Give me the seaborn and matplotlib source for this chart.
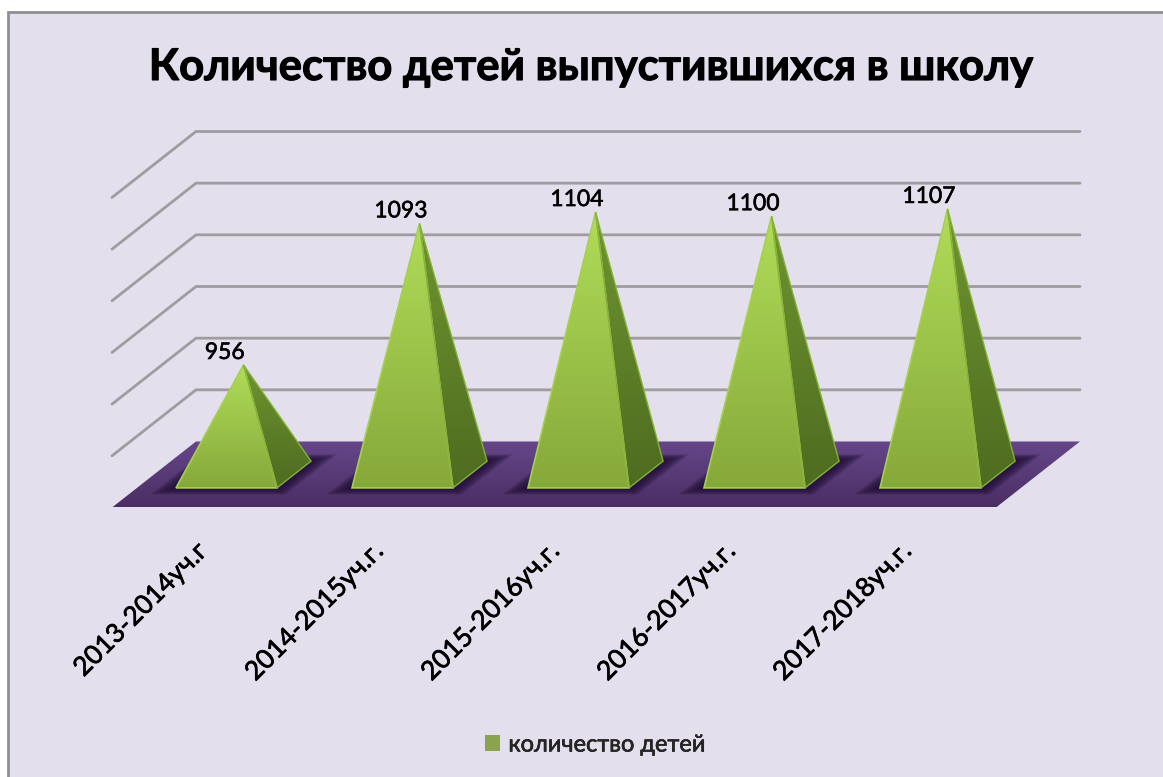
import numpy as np
import pandas as pd
import matplotlib
matplotlib.use("Agg")
import matplotlib.pyplot as plt
import matplotlib.patheffects as pe
from matplotlib.colors import LinearSegmentedColormap
from matplotlib.patches import Polygon, Rectangle
import seaborn as sns

# ---- data ----
categories = ["2013-2014уч.г", "2014-2015уч.г.", "2015-2016уч.г.", "2016-2017уч.г.", "2017-2018уч.г."]
values = [956, 1093, 1104, 1100, 1107]
series_name = "количество детей"
title_text = "Количество детей выпустившихся в школу"
grid_values = [850, 900, 950, 1000, 1050, 1100, 1150]

W, H = 1163, 777
BG = "#E4DFEC"
sns.set_theme(style="white")
plt.rcParams["font.family"] = ["Lato", "Noto Sans", "DejaVu Sans"]

fig = plt.figure(figsize=(W / 100, H / 100), dpi=100, facecolor="white")
fig.add_artist(Rectangle((8 / W, -0.05), 1.1, 1 - 12 / H + 0.05, transform=fig.transFigure,
                         facecolor=BG, edgecolor="#8F8F8F", linewidth=2, zorder=-5))

# axes rectangle = mid-depth plane of the 3-D box
left, right, y850, y1150 = 154, 1038, 474.5, 164.5
ax = fig.add_axes([left / W, 1 - y850 / H, (right - left) / W, (y850 - y1150) / H])
ax.patch.set_alpha(0)

df = pd.DataFrame({"period": categories, "n": values, "series": series_name})
sns.barplot(data=df, x="period", y="n", hue="series", palette=["#8FB33E"], width=0.574,
            dodge=False, ax=ax, legend=True, zorder=1)
sns.move_legend(ax, "center left", bbox_to_anchor=(464 / W, 1 - 745 / H),
                bbox_transform=fig.transFigure, frameon=False, title=None, fontsize=17,
                handlelength=0.64, handleheight=0.64, handletextpad=0.34)
leg = ax.get_legend()
for h in leg.legend_handles:
    h.set_edgecolor("none")
for t in leg.get_texts():
    t.set_path_effects([pe.withStroke(linewidth=0.4, foreground="black")])

ax.set_xlim(-0.5085, 4.514)
ax.set_ylim(grid_values[0], grid_values[-1])
sns.despine(ax=ax, left=True, bottom=True)
ax.set_xlabel("")
ax.set_ylabel("")
ax.set_yticks([])

DX = 42 / 176      # half depth, in category units
DY = 33 / (310 / 300)  # half depth, in value units
DEPTH = 0.405      # half depth of a pyramid relative to the box
BASE = grid_values[0]
xl, xr = ax.get_xlim()


def project(x, v, d):
    return (x + d * DX, v + d * DY)


def grad_fill(pts, top, bottom, zorder):
    pts = np.array(pts)
    cmap = LinearSegmentedColormap.from_list("g", [bottom, top])
    grad = np.linspace(0, 1, 256).reshape(-1, 1)
    im = ax.imshow(grad, cmap=cmap, origin="lower", aspect="auto", interpolation="bilinear",
                   extent=(pts[:, 0].min(), pts[:, 0].max(), pts[:, 1].min(), pts[:, 1].max()),
                   zorder=zorder)
    im.set_clip_box(fig.bbox)
    im.set_clip_path(Polygon(pts, closed=True, transform=ax.transData))
    return im


# walls: grid lines
for g in grid_values[1:]:
    a, b, c = project(xl, g, -1), project(xl, g, 1), project(xr, g, 1)
    ax.plot([a[0], b[0], c[0]], [a[1], b[1], c[1]], color="#9E9C9F", lw=2.0, clip_on=False,
            zorder=0.5, solid_joinstyle="miter")

# floor
floor = [project(xl, BASE, -1), project(xr, BASE, -1), project(xr, BASE, 1), project(xl, BASE, 1)]
grad_fill(floor, "#66468A", "#4A2E63", 1.0)

# pyramids from the seaborn bars' geometry (skip seaborn's empty legend proxy)
bars = [p for p in ax.patches if p.get_height() > 0]
for bar in bars:
    w = bar.get_width()
    xc = bar.get_x() + w / 2
    v = bar.get_height()
    # soft shadow on the floor
    for grow in np.linspace(1.34, 1.04, 8):
        spread = 0.6 * (grow - 1)
        sh = [project(xc - grow * w / 2, BASE, -DEPTH - spread),
              project(xc + grow * w / 2, BASE, -DEPTH - spread),
              project(xc + grow * w / 2, BASE, DEPTH + spread),
              project(xc - grow * w / 2, BASE, DEPTH + spread)]
        ax.add_patch(Polygon(sh, closed=True, facecolor="#1F0C33", alpha=0.2, lw=0, zorder=1.1,
                             clip_on=False))
    fl = project(xc - w / 2, BASE, -DEPTH)
    fr = project(xc + w / 2, BASE, -DEPTH)
    br = project(xc + w / 2, BASE, DEPTH)
    apex = (xc, v)
    grad_fill([fl, fr, apex], "#B0DD58", "#86A83A", 2)
    grad_fill([fr, br, apex], "#6E9530", "#4F6B20", 2)
    ax.add_patch(Polygon([fl, fr, apex], closed=True, fill=False, edgecolor="#A5D14F", lw=1.2,
                         zorder=3, clip_on=False))
    ax.add_patch(Polygon([fr, br, apex], closed=True, fill=False, edgecolor="#86B03C", lw=1.0,
                         zorder=3, clip_on=False))
    ax.annotate(f"{v:.0f}", xy=apex, xytext=(-13.5, 9), textcoords="offset points",
                ha="center", va="center", fontsize=16.5, color="black", zorder=4,
                path_effects=[pe.withStroke(linewidth=0.4, foreground="black")])
    bar.set_visible(False)

# category labels at the front edge of the floor
ax.set_xticks([i - DX - 0.04 for i in range(len(categories))])
ax.set_xticklabels(categories, rotation=45, ha="right", va="top", rotation_mode="anchor",
                   fontsize=19, color="black",
                   path_effects=[pe.withStroke(linewidth=0.5, foreground="black")])
ax.tick_params(axis="x", length=0, pad=46)

fig.text(591 / W, 1 - 67 / H, title_text, ha="center", va="center", fontsize=31.4,
         fontweight="bold", color="black",
         path_effects=[pe.withStroke(linewidth=0.8, foreground="black")])

ax.set_xlim(xl, xr)
ax.set_ylim(grid_values[0], grid_values[-1])
fig.savefig("out.png", dpi=100, facecolor="white")
